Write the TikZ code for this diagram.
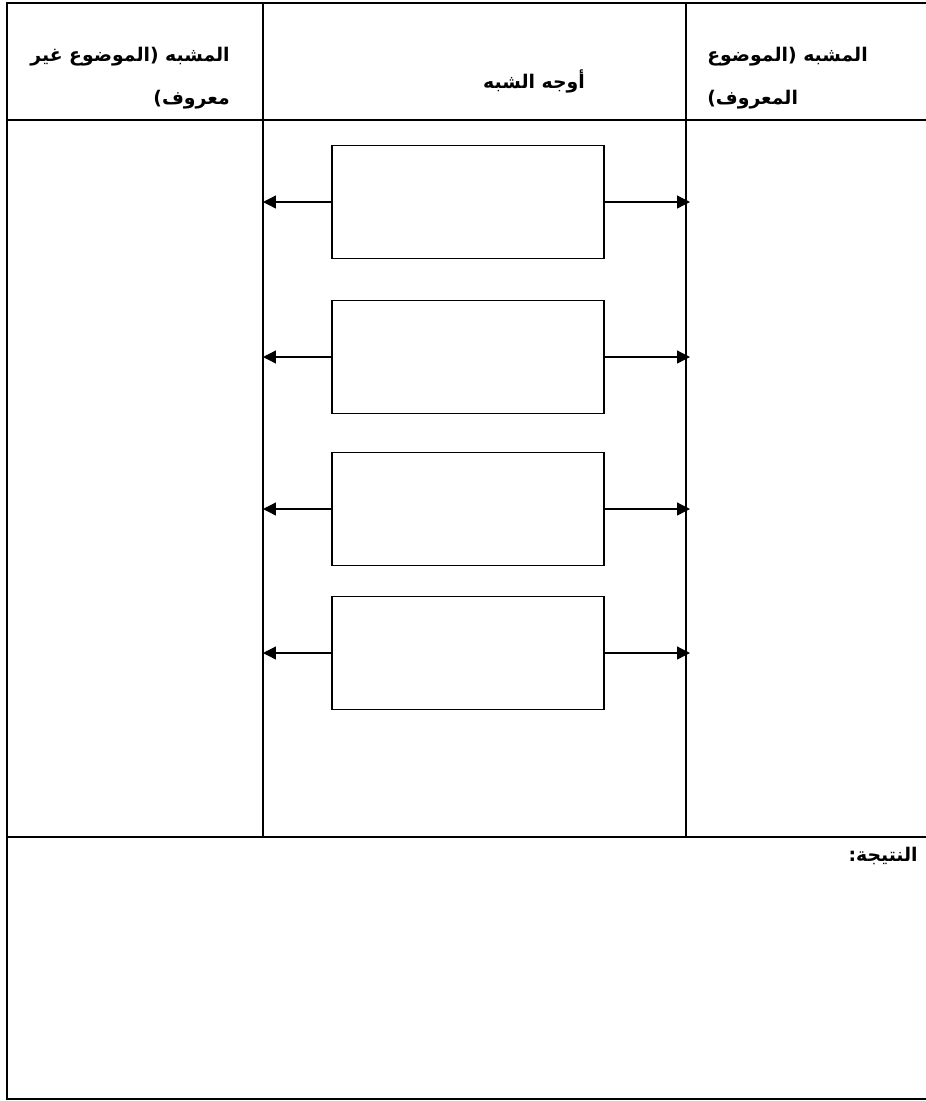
\documentclass[tikz,border=0pt]{standalone}
\usepackage{fontspec}
\newfontfamily\arabicfont[Script=Arabic]{DejaVu Sans}
\TeXXeTstate=1
\usetikzlibrary{arrows.meta, positioning}
\tikzset{
  frame/.style   = {line width=1.4pt},
  rule/.style    = {line width=1.3pt},
  faceBox/.style = {draw, line width=0.9pt, minimum width=6.8cm,
                    minimum height=2.825cm, inner sep=0pt},
  head/.style    = {font=\arabicfont\bfseries\fontsize{13.4}{31}\selectfont, inner sep=0pt},
  toCol/.style   = {-{Triangle[length=3.2mm, width=3.2mm]}, line width=0.9pt}
}

\begin{document}
\begin{tikzpicture}[x=0.025cm, y=-0.025cm]
\useasboundingbox (0,0) rectangle (926,1101);

% table rules (the right edge runs off the page)
\draw[frame] (926,3) -- (7,3) -- (7,1099) -- (926,1099);
\draw[rule] (7,120) -- (926,120);
\draw[rule] (7,837) -- (926,837);
\draw[rule] (263,3) -- (263,837);
\draw[rule] (686,3) -- (686,837);
\coordinate (leftRule)  at (263,0);
\coordinate (rightRule) at (690,0);

% header row
\node[head, align=right, anchor=east] (unknownHead) at (230,78)
  {\beginR المشبه (الموضوع غير\endR\\\beginR معروف)\endR};
\node[head] (facesHead) at (534,81) {\beginR أوجه الشبه\endR};
\node[head, align=left, anchor=west] (knownHead) at (707,78)
  {\beginR المشبه (الموضوع\endR\\\beginR المعروف)\endR};

% the four boxes, each sending an arrow to both side columns
\foreach \i/\y in {1/202, 2/357, 3/509, 4/653} {
  \node[faceBox] (face\i) at (468,\y) {};
  \draw[toCol] (face\i.west) -- (face\i.west -| leftRule);
  \draw[toCol] (face\i.east) -- (face\i.east -| rightRule);
}

% result row
\node[head, anchor=east] (result) at (918,856) {\beginR النتيجة:\endR};
\end{tikzpicture}
\end{document}
